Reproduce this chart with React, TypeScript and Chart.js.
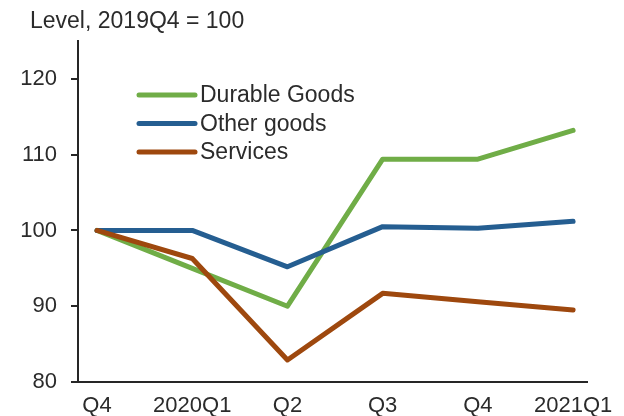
import React, { useEffect, useRef } from "react";
import { Chart, registerables } from "chart.js";

Chart.register(...registerables);

const categories = ["Q4", "2020Q1", "Q2", "Q3", "Q4", "2021Q1"];
const durableGoods = [100, 95.0, 90.0, 109.4, 109.4, 113.2];
const otherGoods = [100, 100, 95.2, 100.5, 100.3, 101.2];
const services = [100, 96.3, 82.9, 91.7, 90.6, 89.5];
const yTicks = [80, 90, 100, 110, 120];
const seriesNames = ["Durable Goods", "Other goods", "Services"];
const seriesColors = ["#70AD47", "#255E91", "#9E480E"];
const titleText = "Level, 2019Q4 = 100";

const FONT = "'Liberation Sans', Arial, sans-serif";
const TEXT_COLOR = "#2b2b2b";

const overlayPlugin = {
  id: "overlay",
  afterDraw(chart: any) {
    const ctx = chart.ctx;
    const area = chart.chartArea;
    ctx.save();
    ctx.fillStyle = TEXT_COLOR;
    ctx.font = `23px ${FONT}`;
    ctx.textBaseline = "middle";
    ctx.textAlign = "left";
    ctx.fillText(titleText, 30, 22);
    const ds = chart.data.datasets;
    ds.forEach((d: any, i: number) => {
      const y = area.top + 54 + i * 28.5;
      const x0 = area.left + 61;
      ctx.strokeStyle = d.borderColor;
      ctx.lineWidth = 5;
      ctx.lineCap = "round";
      ctx.beginPath();
      ctx.moveTo(x0, y);
      ctx.lineTo(x0 + 56, y);
      ctx.stroke();
      ctx.fillStyle = TEXT_COLOR;
      ctx.font = `23px ${FONT}`;
      ctx.fillText(d.label, x0 + 61, y + 1);
    });
    ctx.restore();
  },
};

export default function App() {
  const ref = useRef<HTMLCanvasElement>(null);
  useEffect(() => {
    const values = [durableGoods, otherGoods, services];
    const orders = [2, 1, 0];
    const chart = new Chart(ref.current!, {
      type: "line",
      data: {
        datasets: seriesNames.map((name, i) => ({
          label: name,
          data: values[i].map((v, j) => ({ x: j, y: v })),
          borderColor: seriesColors[i],
          backgroundColor: seriesColors[i],
          borderWidth: 5,
          pointRadius: 0,
          tension: 0,
          borderCapStyle: "round" as const,
          borderJoinStyle: "round" as const,
          order: orders[i],
        })),
      },
      options: {
        animation: false,
        responsive: false,
        maintainAspectRatio: false,
        layout: { padding: { top: 41, right: 27, left: 0, bottom: 0 } },
        plugins: { legend: { display: false }, tooltip: { enabled: false } },
        scales: {
          x: {
            type: "linear",
            min: -0.2,
            max: 5.15,
            afterBuildTicks: (scale: any) => {
              scale.ticks = categories.map((_, i) => ({ value: i }));
            },
            afterFit: (scale: any) => {
              scale.height = 34;
            },
            ticks: {
              autoSkip: false,
              maxRotation: 0,
              padding: 11,
              color: TEXT_COLOR,
              font: { family: FONT, size: 22 },
              callback: (v: any) => categories[v] ?? "",
            },
            grid: { display: false, drawTicks: false },
            border: { display: true, color: "#262626", width: 2 },
          },
          y: {
            min: 80,
            max: 125,
            afterBuildTicks: (scale: any) => {
              scale.ticks = yTicks.map((v) => ({ value: v }));
            },
            afterFit: (scale: any) => {
              scale.width = 78;
            },
            ticks: {
              padding: 14,
              color: TEXT_COLOR,
              font: { family: FONT, size: 22 },
            },
            grid: {
              display: true,
              drawOnChartArea: false,
              drawTicks: true,
              tickLength: 7,
              color: "#262626",
              lineWidth: 2,
            },
            border: { display: true, color: "#262626", width: 2 },
          },
        },
      },
      plugins: [overlayPlugin],
    });
    return () => chart.destroy();
  }, []);
  return (
    <div style={{ position: "fixed", left: 0, top: 0, width: 624, height: 416, background: "#fff" }}>
      <canvas ref={ref} width={624} height={416} style={{ width: 624, height: 416 }} />
    </div>
  );
}
